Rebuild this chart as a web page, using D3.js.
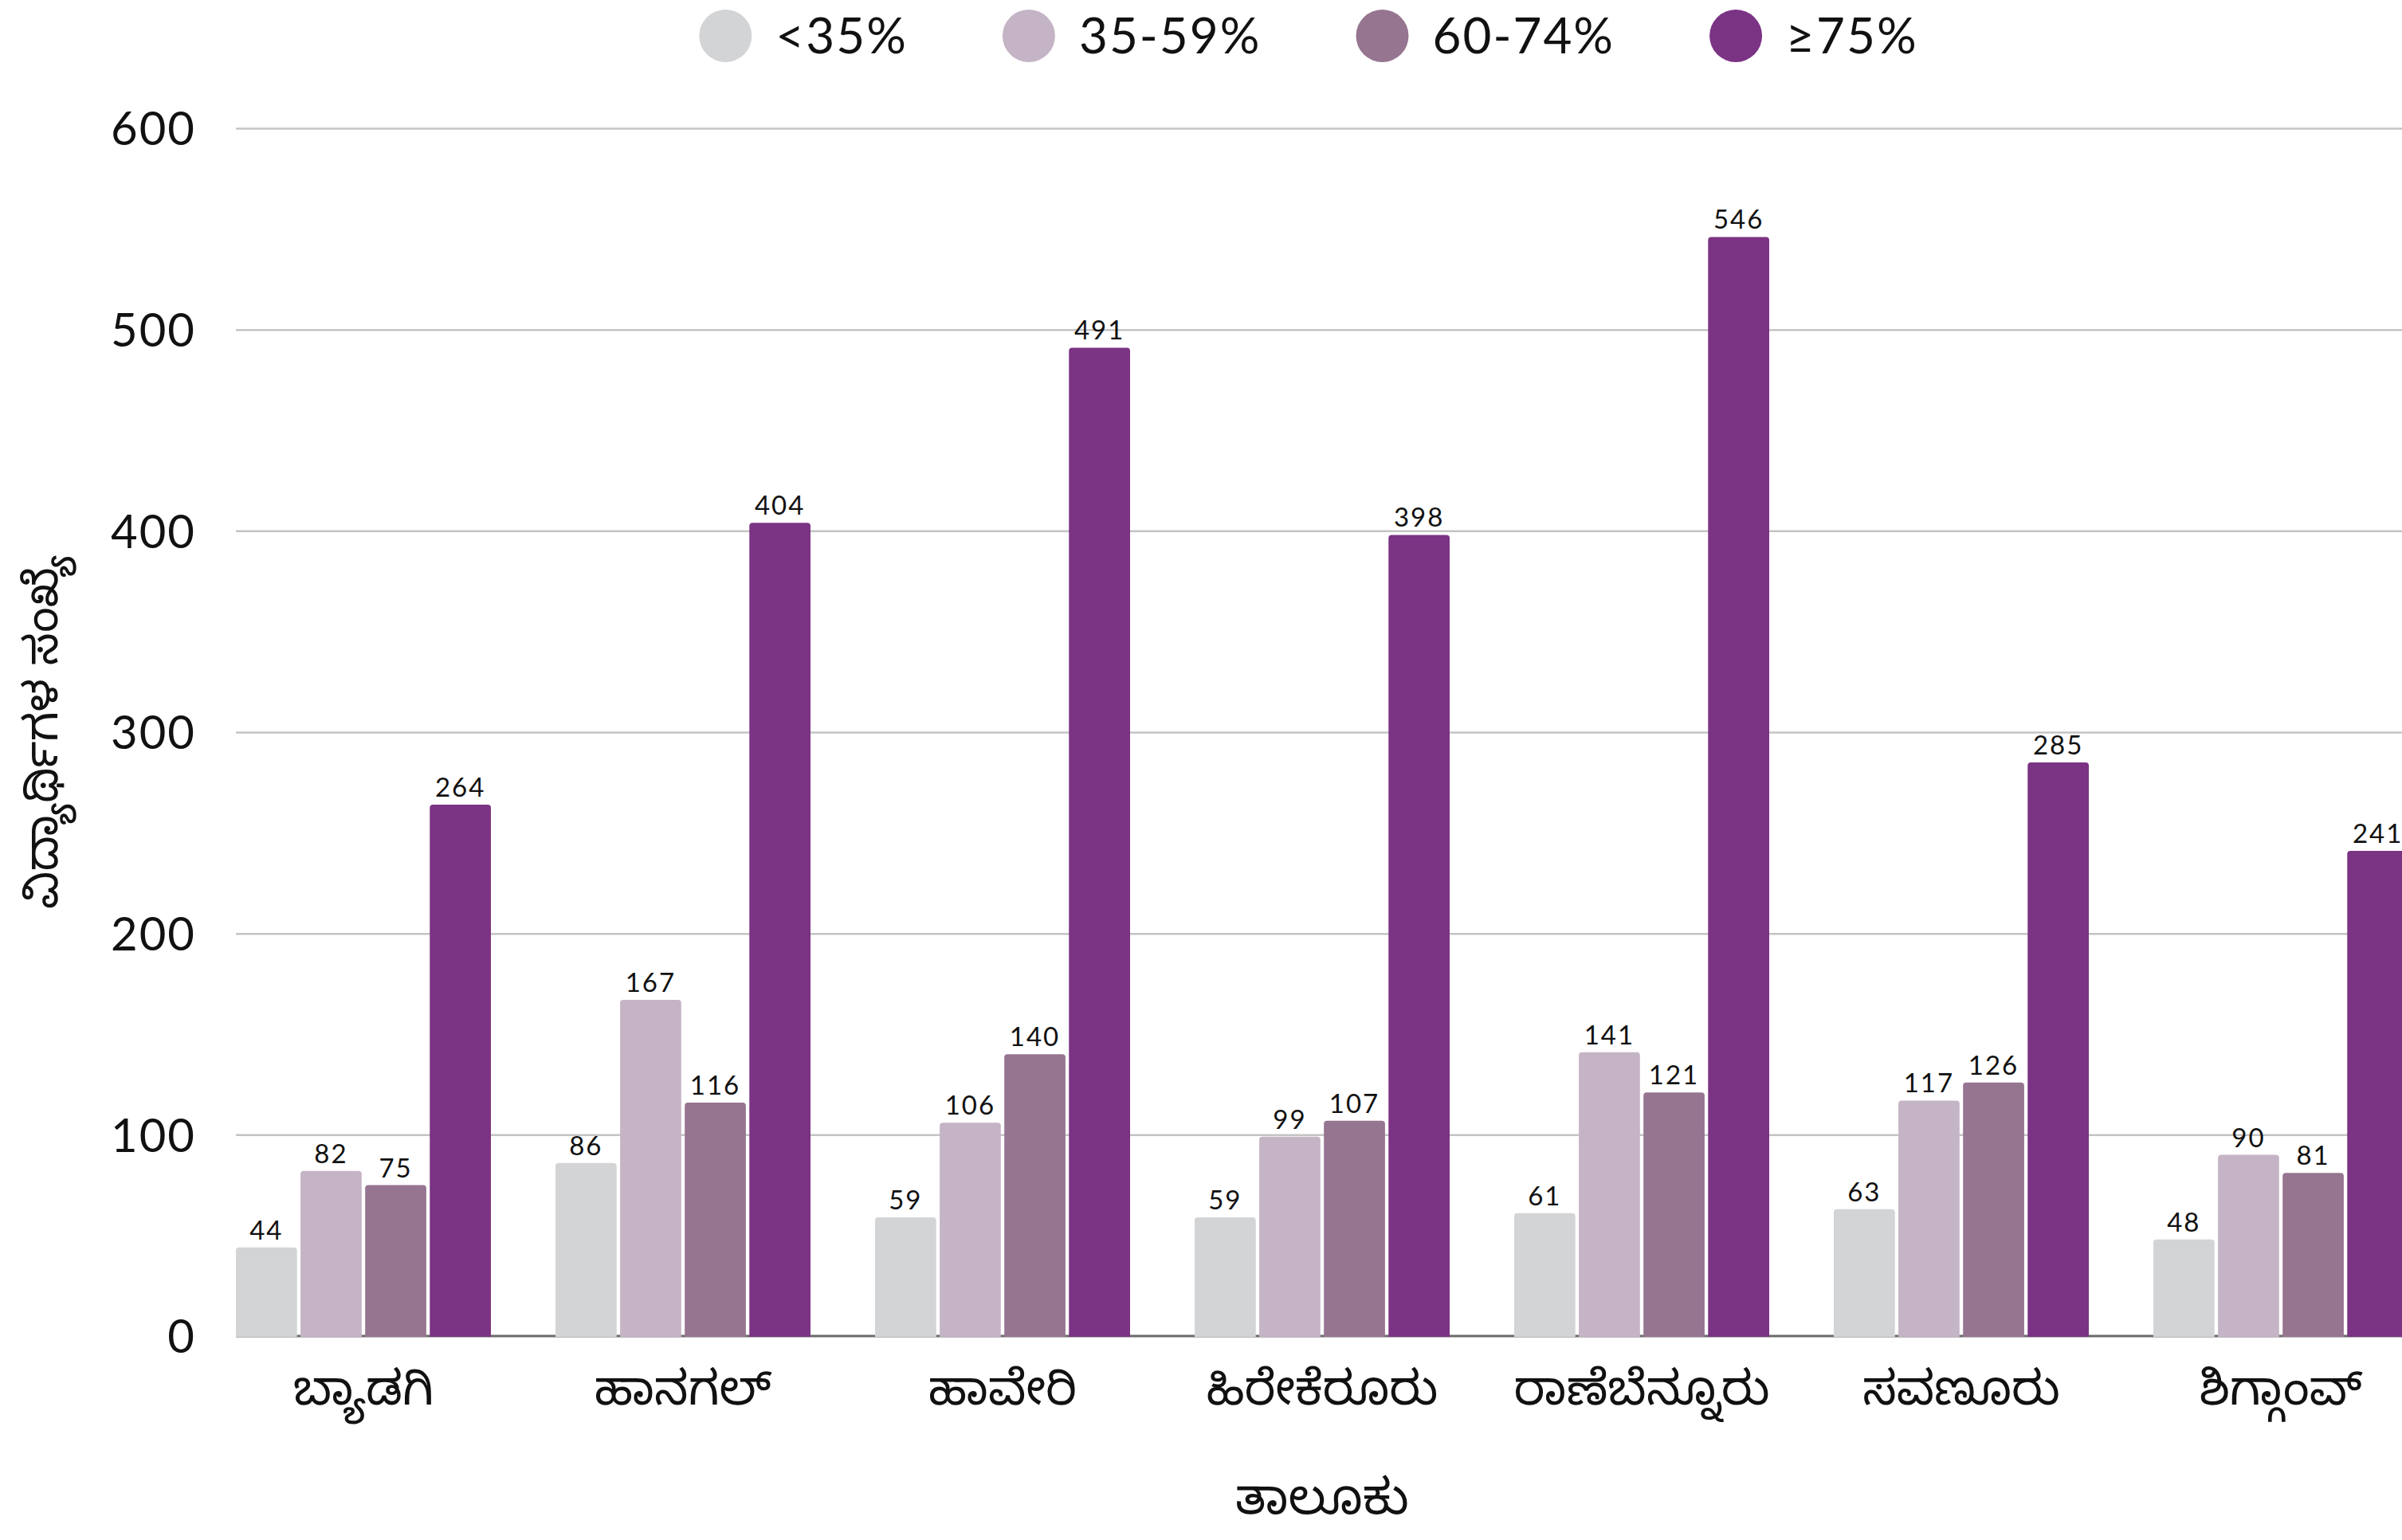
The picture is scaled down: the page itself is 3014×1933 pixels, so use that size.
<!DOCTYPE html>
<html>
<head>
<meta charset="utf-8">
<script src="https://cdn.jsdelivr.net/npm/d3@7"></script>
<style>
  html, body { margin: 0; padding: 0; background: #fff; }
  svg { display: block; }
</style>
</head>
<body>
<svg id="chart" width="3014" height="1933"></svg>
<script>
// ---- data ----
const categories = ["ಬ್ಯಾಡಗಿ", "ಹಾನಗಲ್", "ಹಾವೇರಿ", "ಹಿರೇಕೆರೂರು", "ರಾಣೆಬೆನ್ನೂರು", "ಸವಣೂರು", "ಶಿಗ್ಗಾಂವ್"];
const seriesNames = ["<35%", "35-59%", "60-74%", "≥75%"];
const below35 = [44, 86, 59, 59, 61, 63, 48];
const from35to59 = [82, 167, 106, 99, 141, 117, 90];
const from60to74 = [75, 116, 140, 107, 121, 126, 81];
const above75 = [264, 404, 491, 398, 546, 285, 241];
const yTicks = [0, 100, 200, 300, 400, 500, 600];
const xTitle = "ತಾಲೂಕು";
const yTitle = "ವಿದ್ಯಾರ್ಥಿಗಳ ಸಂಖ್ಯೆ";

const seriesValues = [below35, from35to59, from60to74, above75];
const colors = ["#d3d4d6", "#c5b4c6", "#967591", "#7b3384"];

// ---- layout ----
const svg = d3.select("#chart");
const latin = "Lato, 'Noto Sans', sans-serif";
const kannada = "'Noto Sans Kannada', 'Noto Sans', sans-serif";

const plotLeft = 255.5, plotRight = 3062.5;
const yTop = 161, yBottom = 1677;

const x0 = d3.scaleBand().domain(categories).range([plotLeft, plotRight])
  .paddingInner(81 / 401).paddingOuter(40.5 / 401);
const x1 = d3.scaleBand().domain(seriesNames).range([0, x0.bandwidth()])
  .paddingInner(0.054).paddingOuter(0);
const y = d3.scaleLinear().domain([0, 600]).range([yBottom, yTop]);

// gridlines
const gridAxis = d3.axisLeft(y).tickValues(yTicks.filter(d => d > 0))
  .tickSize(-(3014 - x0(categories[0]))).tickFormat("");
svg.append("g")
  .attr("transform", `translate(${x0(categories[0])},0)`)
  .call(gridAxis)
  .call(g => g.select(".domain").remove())
  .call(g => g.selectAll("line").attr("stroke", "#c4c4c4").attr("stroke-width", 2.5));

// y tick labels
const yAxis = d3.axisLeft(y).tickValues(yTicks).tickSize(0).tickPadding(0);
svg.append("g")
  .attr("transform", `translate(246,0)`)
  .call(yAxis)
  .call(g => g.select(".domain").remove())
  .call(g => g.selectAll("text")
    .attr("font-family", latin).attr("font-size", 58).attr("fill", "#111")
    .attr("letter-spacing", 2).attr("dy", "0.36em"));

// baseline
svg.append("line")
  .attr("x1", x0(categories[0])).attr("x2", 3014)
  .attr("y1", y(0)).attr("y2", y(0))
  .attr("stroke", "#6b6b6b").attr("stroke-width", 3);

// bars
const radius = 4;
function barPath(xl, w, yt, yb) {
  const r = Math.min(radius, w / 2, (yb - yt) / 2);
  return `M${xl},${yb}V${yt + r}Q${xl},${yt} ${xl + r},${yt}H${xl + w - r}Q${xl + w},${yt} ${xl + w},${yt + r}V${yb}Z`;
}
const groups = svg.append("g").selectAll("g")
  .data(categories).join("g")
  .attr("transform", d => `translate(${x0(d)},0)`);

groups.each(function (cat, ci) {
  const g = d3.select(this);
  seriesNames.forEach((s, si) => {
    const v = seriesValues[si][ci];
    const bx = x1(s), bw = x1.bandwidth();
    g.append("path")
      .attr("d", barPath(bx, bw, y(v), y(0) + 1))
      .attr("fill", colors[si]);
    g.append("text")
      .attr("x", bx + bw / 2).attr("y", y(v) - 10)
      .attr("text-anchor", "middle")
      .attr("font-family", latin).attr("font-size", 33)
      .attr("letter-spacing", 2).attr("fill", "#111")
      .text(v);
  });
});

// x category labels
const xAxis = d3.axisBottom(x0).tickSize(0).tickPadding(0);
svg.append("g")
  .attr("transform", `translate(0,1763)`)
  .call(xAxis)
  .call(g => g.select(".domain").remove())
  .call(g => g.selectAll("text")
    .attr("font-family", kannada).attr("font-size", 60).attr("font-weight", 400)
    .attr("fill", "#111").attr("dy", 0));

// axis titles
svg.append("text")
  .attr("x", (plotLeft + plotRight) / 2).attr("y", 1900)
  .attr("text-anchor", "middle")
  .attr("font-family", kannada).attr("font-size", 62).attr("font-weight", 400)
  .attr("fill", "#111").text(xTitle);

svg.append("text")
  .attr("transform", `translate(72,${(yTop + yBottom) / 2}) rotate(-90)`)
  .attr("text-anchor", "middle")
  .attr("font-family", kannada).attr("font-size", 58).attr("font-weight", 400)
  .attr("fill", "#111").text(yTitle);

// legend
const legend = svg.append("g");
const r = 33, gapText = 30, gapItem = 119;
let cx = 0;
seriesNames.forEach((s, i) => {
  const g = legend.append("g");
  g.append("circle").attr("cx", r).attr("cy", 45).attr("r", r).attr("fill", colors[i]);
  const t = g.append("text").attr("x", 2 * r + gapText).attr("y", 45).attr("dy", "0.36em")
    .attr("font-family", latin).attr("font-size", 62).attr("letter-spacing", 2)
    .attr("fill", "#111").text(s);
  const w = 2 * r + gapText + t.node().getComputedTextLength();
  g.attr("transform", `translate(${cx},0)`);
  cx += w + gapItem;
});
const totalW = cx - gapItem;
legend.attr("transform", `translate(${1642 - totalW / 2},0)`);
</script>
</body>
</html>
